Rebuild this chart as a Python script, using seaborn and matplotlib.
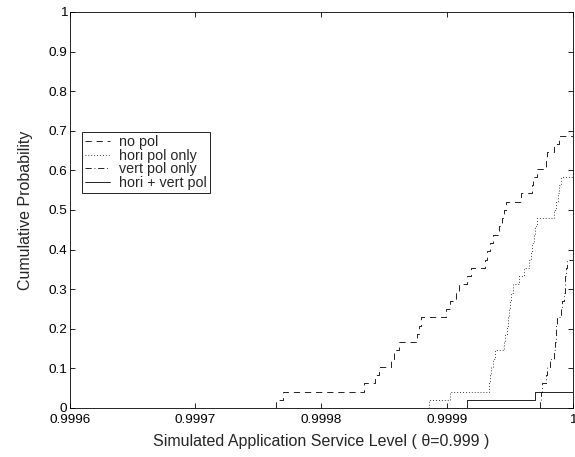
import numpy as np
import pandas as pd
import matplotlib
matplotlib.use("Agg")
import matplotlib.pyplot as plt
import seaborn as sns

# ---- data (sample values read from the step CDFs; 48 runs per policy) ----
no_pol = [0.9997639, 0.9997694, 0.9998345, 0.9998425, 0.9998464, 0.9998560, 0.9998583,
          0.9998623, 0.9998766, 0.9998782, 0.9998798, 0.9998996, 0.9999028, 0.9999075,
          0.9999099, 0.9999163, 0.9999194, 0.9999306, 0.9999321, 0.9999345, 0.9999369,
          0.9999417, 0.9999440, 0.9999456, 0.9999472, 0.9999591, 0.9999679, 0.9999687,
          0.9999718, 0.9999790, 0.9999798, 0.9999853, 0.9999893]
no_pol_at_one = 15

hori_only = [0.9998861, 0.9999028, 0.9999337, 0.9999345, 0.9999353, 0.9999369, 0.9999385,
             0.9999456, 0.9999464, 0.9999480, 0.9999488, 0.9999496, 0.9999504, 0.9999512,
             0.9999528, 0.9999575, 0.9999615, 0.9999655, 0.9999671, 0.9999679, 0.9999694,
             0.9999702, 0.9999718, 0.9999853, 0.9999869, 0.9999885, 0.9999893, 0.9999909]
hori_only_at_one = 20

vert_only = [0.9999742, 0.9999750, 0.9999758, 0.9999790, 0.9999798, 0.9999821, 0.9999853,
             0.9999861, 0.9999865, 0.9999869, 0.9999877, 0.9999909, 0.9999917, 0.9999933,
             0.9999940, 0.9999944, 0.9999948, 0.9999956]
vert_only_at_one = 30

hori_vert = [0.9999163, 0.9999702]
hori_vert_at_one = 46

series_names = ["no pol", "hori pol only", "vert pol only", "hori + vert pol"]

x_ticks = [0.9996, 0.9997, 0.9998, 0.9999, 1.0]
x_tick_labels = ["0.9996", "0.9997", "0.9998", "0.9999", "1"]
y_ticks = [0, 0.1, 0.2, 0.3, 0.4, 0.5, 0.6, 0.7, 0.8, 0.9, 1.0]
y_tick_labels = ["0", "0.1", "0.2", "0.3", "0.4", "0.5", "0.6", "0.7", "0.8", "0.9", "1"]

x_label = "Simulated Application Service Level ( θ=0.999 )"
y_label = "Cumulative Probability"

# ---- build long table ----
frames = []
for name, vals, n1 in zip(series_names,
                          [no_pol, hori_only, vert_only, hori_vert],
                          [no_pol_at_one, hori_only_at_one, vert_only_at_one, hori_vert_at_one]):
    v = list(vals) + [1.0]
    w = [1.0] * len(vals) + [float(n1)]
    frames.append(pd.DataFrame({"value": v, "weight": w, "policy": name}))
df = pd.concat(frames, ignore_index=True)

# ---- style ----
sns.set_style("ticks")
plt.rcParams["font.family"] = ["Liberation Sans", "DejaVu Sans"]
plt.rcParams["lines.scale_dashes"] = False
plt.rcParams["axes.linewidth"] = 0.6

fig = plt.figure(figsize=(5.75, 4.57), dpi=100)
ax = fig.add_axes([69.7 / 575, 49 / 457, (572.5 - 69.7) / 575, 396 / 457])

styles = {
    "no pol": (0, (4.5, 3.5)),
    "hori pol only": (0, (0.6, 1.5)),
    "vert pol only": (0, (4.5, 2.0, 0.6, 2.0)),
    "hori + vert pol": "-",
}

for name in series_names:
    sub = df[df["policy"] == name]
    sns.ecdfplot(data=sub, x="value", weights="weight", ax=ax, color="black",
                 linewidth=0.6, linestyle=styles[name], label=name)

ax.set_xlim(x_ticks[0], x_ticks[-1])
ax.set_ylim(0, 1)
ax.set_xticks(x_ticks, x_tick_labels)
ax.set_yticks(y_ticks, y_tick_labels)
ax.tick_params(direction="in", length=3.5, width=0.6, labelsize=9.7,
               top=True, right=True, colors="black")
ax.tick_params(axis="x", pad=4)
ax.tick_params(axis="y", pad=1.8)
for s in ax.spines.values():
    s.set_visible(True)
    s.set_color("black")
    s.set_linewidth(0.6)

ax.set_xlabel(x_label, fontsize=11.5, labelpad=6)
ax.set_ylabel(y_label, fontsize=11.5, labelpad=11)

leg = ax.legend(loc="upper left", bbox_to_anchor=(0.024, 0.697), fontsize=10.3,
                frameon=True, fancybox=False, edgecolor="black", handlelength=1.8,
                handletextpad=0.6, borderpad=0.2, labelspacing=-0.02, borderaxespad=0)
leg.get_frame().set_linewidth(0.6)
leg.get_frame().set_alpha(1)

fig.savefig("out.png", dpi=100)
